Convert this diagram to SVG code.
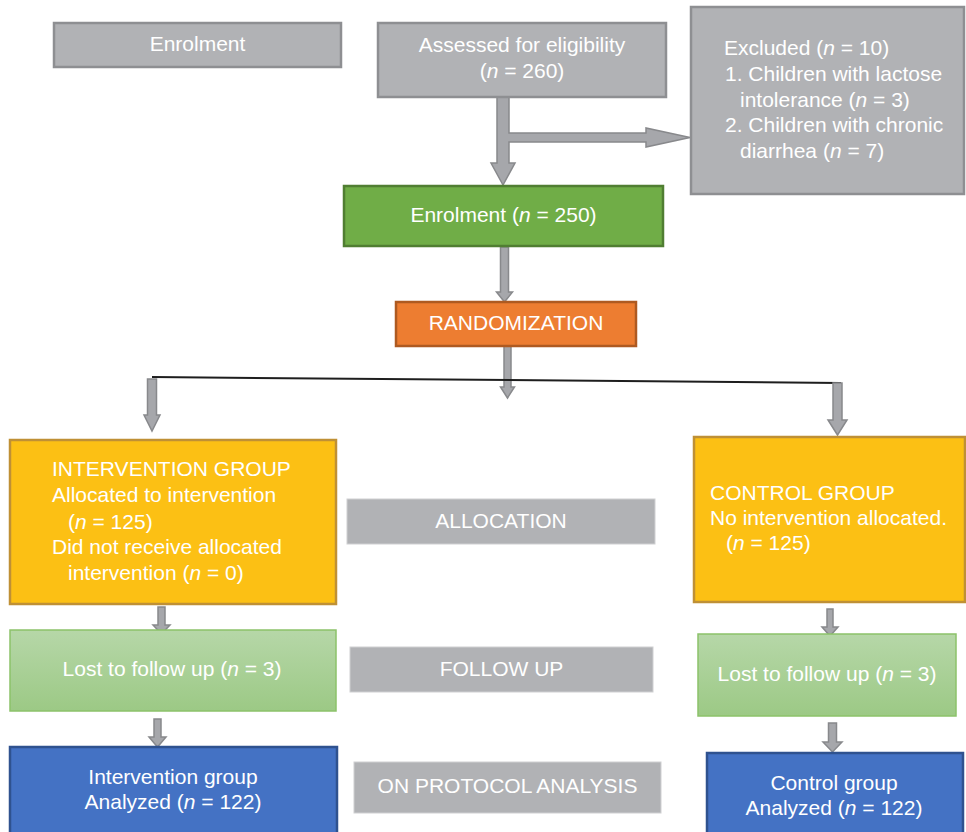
<svg xmlns="http://www.w3.org/2000/svg" width="966" height="832" viewBox="0 0 966 832">
<defs>
<linearGradient id="lg" x1="0" y1="0" x2="0" y2="1">
<stop offset="0" stop-color="#b6d7a8"/>
<stop offset="1" stop-color="#9cc985"/>
</linearGradient>
<style>
text{font-family:"Liberation Sans",Arial,sans-serif;font-size:21px;fill:#ffffff}
.c{text-anchor:middle}
.i{font-style:italic}
.gray{fill:#b1b2b5;stroke:#8e8f92;stroke-width:2.5}
.lbl{fill:#b1b2b5;stroke:#cfd0d2;stroke-width:1}
.green{fill:#70ad47;stroke:#507e32;stroke-width:2.5}
.orange{fill:#ed7d31;stroke:#ae5a21;stroke-width:2.5}
.gold{fill:#fcc014;stroke:#bf9035;stroke-width:2.5}
.lgreen{fill:url(#lg);stroke:#8cc26a;stroke-width:1.5}
.blue{fill:#4472c4;stroke:#2f528f;stroke-width:2.5}
.arr{fill:#a6a7ab;stroke:#88898c;stroke-width:1.5;stroke-linejoin:miter}
</style>
</defs>
<rect width="966" height="832" fill="#ffffff"/>

<g id="connectors">
<polygon class="arr" points="497,97 509,97 509,133 646,133 646,128 690,137.5 646,147 646,142 509,142 509,163 515,163 503,185 491,163 497,163"/>
<polygon class="arr" points="500.5,247 508.5,247 508.5,292 512.5,292 504.5,302 496.5,292 500.5,292"/>
<polygon class="arr" points="504,346 511,346 511,387 514.5,387 507.5,398 500.5,387 504,387"/>
<line x1="152" y1="377" x2="841" y2="383" stroke="#1e1e1e" stroke-width="2"/>
<polygon class="arr" points="147.5,379 156.5,379 156.5,415 160,415 152,431 144,415 147.5,415"/>
<polygon class="arr" points="833,383 842,383 842,420 847,420 837.5,435 828,420 833,420"/>
<polygon class="arr" points="158,607 165,607 165,625 170,625 161.5,634 153,625 158,625"/>
<polygon class="arr" points="154,719 161,719 161,737 166,737 157.5,747 149,737 154,737"/>
<polygon class="arr" points="827,609 833,609 833,627 838,627 830,636 822,627 827,627"/>
<polygon class="arr" points="828.5,723 836.5,723 836.5,742 842,742 832.5,752 823,742 828.5,742"/>
</g>

<g id="enrolment-label">
<rect class="gray" x="54" y="23" width="287" height="44"/>
<text class="c" x="197.5" y="51">Enrolment</text>
</g>

<g id="assessed">
<rect class="gray" x="378" y="23" width="288" height="74"/>
<text class="c" x="522" y="52">Assessed for eligibility</text>
<text class="c" x="522" y="78">(<tspan class="i">n</tspan> = 260)</text>
</g>

<g id="excluded">
<rect class="gray" x="691" y="7" width="273" height="187"/>
<text x="724" y="55">Excluded (<tspan class="i">n</tspan> = 10)</text>
<text x="725" y="81">1. Children with lactose</text>
<text x="740" y="107">intolerance (<tspan class="i">n</tspan> = 3)</text>
<text x="725" y="132">2. Children with chronic</text>
<text x="740" y="158">diarrhea (<tspan class="i">n</tspan> = 7)</text>
</g>

<g id="enrolment">
<rect class="green" x="344" y="186" width="319" height="60"/>
<text class="c" x="503.5" y="222">Enrolment (<tspan class="i">n</tspan> = 250)</text>
</g>

<g id="randomization">
<rect class="orange" x="396" y="302" width="240" height="44"/>
<text class="c" x="516" y="330">RANDOMIZATION</text>
</g>

<g id="intervention-group">
<rect class="gold" x="10" y="440" width="326" height="164"/>
<text x="52" y="476">INTERVENTION GROUP</text>
<text x="52" y="502">Allocated to intervention</text>
<text x="68" y="529">(<tspan class="i">n</tspan> = 125)</text>
<text x="52" y="554">Did not receive allocated</text>
<text x="68" y="580">intervention (<tspan class="i">n</tspan> = 0)</text>
</g>

<g id="control-group">
<rect class="gold" x="694" y="437" width="271" height="165"/>
<text x="710" y="500">CONTROL GROUP</text>
<text x="710" y="525">No intervention allocated.</text>
<text x="726" y="550">(<tspan class="i">n</tspan> = 125)</text>
</g>

<g id="allocation">
<rect class="lbl" x="347" y="499" width="308" height="45"/>
<text class="c" x="501" y="528">ALLOCATION</text>
</g>

<g id="lost-intervention">
<rect class="lgreen" x="10" y="630" width="326" height="81"/>
<text class="c" x="172" y="676">Lost to follow up (<tspan class="i">n</tspan> = 3)</text>
</g>

<g id="follow-up">
<rect class="lbl" x="350" y="647" width="303" height="45"/>
<text class="c" x="501.5" y="676">FOLLOW UP</text>
</g>

<g id="lost-control">
<rect class="lgreen" x="698" y="634" width="258" height="82"/>
<text class="c" x="827" y="681">Lost to follow up (<tspan class="i">n</tspan> = 3)</text>
</g>

<g id="analyzed-intervention">
<rect class="blue" x="10" y="747" width="327" height="95"/>
<text class="c" x="173" y="784">Intervention group</text>
<text class="c" x="173" y="809">Analyzed (<tspan class="i">n</tspan> = 122)</text>
</g>

<g id="protocol-analysis">
<rect class="lbl" x="354" y="762" width="307" height="51"/>
<text class="c" x="507.5" y="793">ON PROTOCOL ANALYSIS</text>
</g>

<g id="analyzed-control">
<rect class="blue" x="707" y="753" width="256" height="89"/>
<text class="c" x="834" y="790">Control group</text>
<text class="c" x="834" y="815">Analyzed (<tspan class="i">n</tspan> = 122)</text>
</g>
</svg>
